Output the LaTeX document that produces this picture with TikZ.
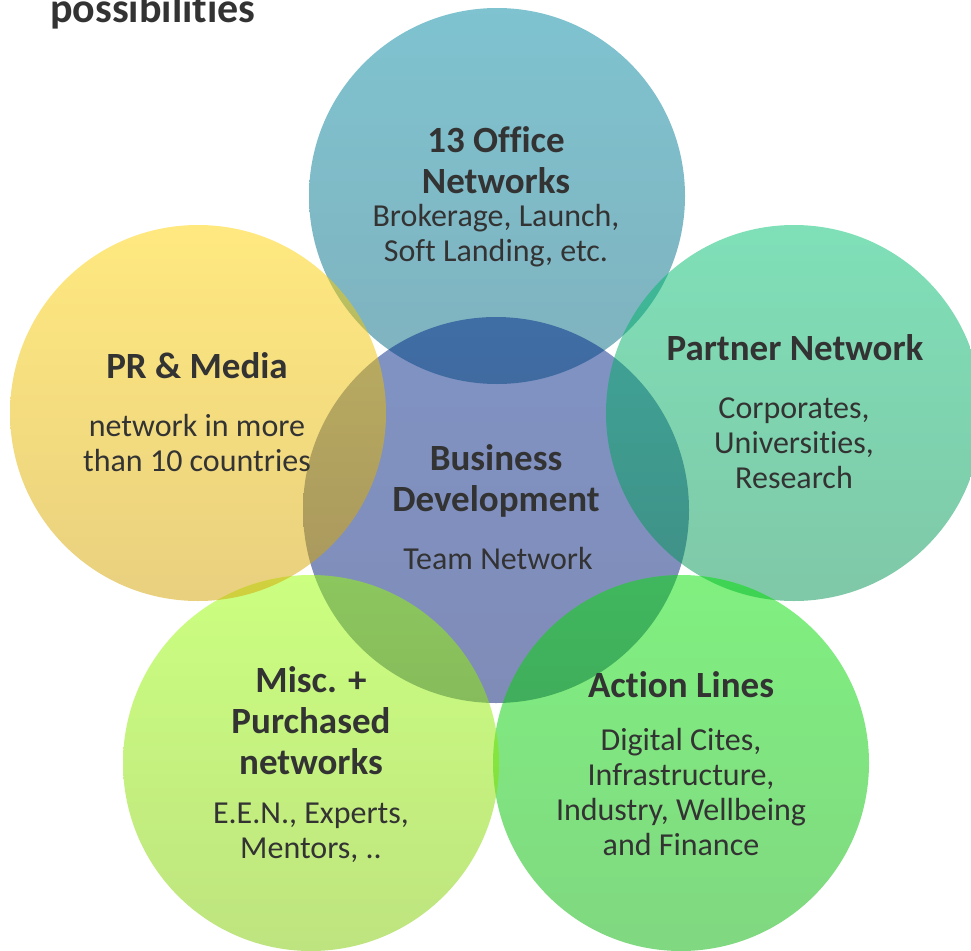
\documentclass[tikz,border=0pt]{standalone}
\usepackage{fontspec}
\setmainfont{Carlito}[Ligatures=NoCommon]
\usepackage{xcolor}
\usepackage{tikz}
\usetikzlibrary{shapes}

\definecolor{textgrey}{RGB}{51,51,51}
\definecolor{officetop}{RGB}{0,135,161}
\definecolor{officebot}{RGB}{0,101,125}
\definecolor{bizdevtop}{RGB}{1,40,137}
\definecolor{bizdevbot}{RGB}{1,25,113}
\definecolor{partnertop}{RGB}{0,193,113}
\definecolor{partnerbot}{RGB}{0,145,81}
\definecolor{actiontop}{RGB}{1,225,1}
\definecolor{actionbot}{RGB}{1,177,1}
\definecolor{misctop}{RGB}{153,255,1}
\definecolor{miscbot}{RGB}{125,201,0}
\definecolor{mediatop}{RGB}{255,211,0}
\definecolor{mediabot}{RGB}{211,161,0}

\begin{document}
\begin{tikzpicture}[x=1pt, y=-1pt]
	\tikzstyle{bubble} = [circle, inner sep=0pt, minimum size=376pt, fill opacity=0.5]
	\tikzstyle{head} = [inner sep=0pt, text=textgrey, align=center,
	font=\fontsize{37}{41}\selectfont\bfseries]
	\tikzstyle{sub} = [inner sep=0pt, text=textgrey, align=center,
	font=\fontsize{32}{35}\selectfont]
	\useasboundingbox (0,0) rectangle (971,950);
	% Title (cut at the top)
	\node [inner sep=0pt, anchor=base west, text=textgrey,
	font=\fontsize{42}{48}\selectfont\bfseries] (title) at (50,23) {possibilities};
	% Circles
	\node [bubble, top color=officetop, bottom color=officebot] (office) at (497,196) {};
	\node [bubble, minimum size=386pt, top color=bizdevtop, bottom color=bizdevbot] (bizdev) at (496,510) {};
	\node [bubble, top color=partnertop, bottom color=partnerbot] (partner) at (794,413) {};
	\node [bubble, top color=actiontop, bottom color=actionbot] (action) at (681,763) {};
	\node [bubble, top color=misctop, bottom color=miscbot] (misc) at (311,763) {};
	\node [bubble, top color=mediatop, bottom color=mediabot] (media) at (198,413) {};
	% Labels
	\node [head] (officehead) at (496,160) {13 Office\\Networks};
	\node [sub] (officesub) at (496,236) {Brokerage, Launch,\\Soft Landing, etc.};
	\node [head] (partnerhead) at (795,348) {Partner Network};
	\node [sub] (partnersub) at (794,443) {Corporates,\\Universities,\\Research};
	\node [head] (mediahead) at (197,366) {PR \& Media};
	\node [sub] (mediasub) at (197,443) {network in more\\than 10 countries};
	\node [head] (bizdevhead) at (496,481) {Business\\Development};
	\node [sub] (bizdevsub) at (498,559) {Team Network};
	\node [head] (mischead) at (311,721) {Misc. +\\Purchased\\networks};
	\node [sub] (miscsub) at (311,833) {E.E.N., Experts,\\Mentors, ..};
	\node [head] (actionhead) at (681,685) {Action Lines};
	\node [sub] (actionsub) at (681,792) {Digital Cites,\\Infrastructure,\\Industry, Wellbeing\\and Finance};
\end{tikzpicture}
\end{document}
